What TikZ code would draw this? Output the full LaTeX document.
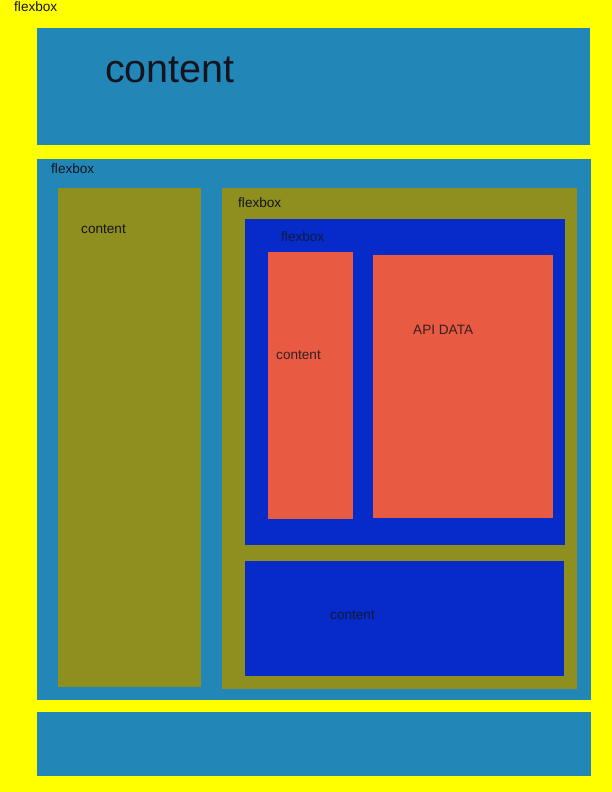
\documentclass[tikz,border=0pt]{standalone}
\usepackage{fontspec}
\setmainfont{Liberation Sans}
\definecolor{cyel}{HTML}{FFFF00}
\definecolor{cblue}{HTML}{2287B7}
\definecolor{colive}{HTML}{8F8F1F}
\definecolor{croyal}{HTML}{062BC8}
\definecolor{cred}{HTML}{E85A42}
\definecolor{ctext}{HTML}{141420}
\tikzset{
  lbl/.style={anchor=base west, inner sep=0pt, font=\fontsize{13.6}{16}\selectfont, text=ctext},
  big/.style={anchor=base west, inner sep=0pt, font=\fontsize{39.5}{44}\selectfont, text=ctext}
}
\begin{document}
\begin{tikzpicture}[x=1pt,y=-1pt]
\fill[cyel] (0,0) rectangle (612,792);
\useasboundingbox (0,0) rectangle (612,792);
% top bar
\fill[cblue] (37,28) rectangle (590,145);
% middle flexbox
\fill[cblue] (37,159) rectangle (591,700);
\fill[colive] (58,188) rectangle (201,687);
\fill[colive] (222,188) rectangle (577,689);
\fill[croyal] (245,219) rectangle (565,545);
\fill[cred] (268,252) rectangle (353,519);
\fill[cred] (373,255) rectangle (553,518);
\fill[croyal] (245,561) rectangle (564,676);
% bottom bar
\fill[cblue] (37,712) rectangle (591,776);
% texts
\node[lbl] (t1) at (14,12) {flexbox};
\node[big] (t2) at (105,82) {content};
\node[lbl] (t3) at (51,173) {flexbox};
\node[lbl] (t4) at (81,233) {content};
\node[lbl] (t5) at (238,207) {flexbox};
\node[lbl, text=ctext!80!croyal] (t6) at (281,241) {flexbox};
\node[lbl, text=ctext!85!cred] (t7) at (276,359) {content};
\node[lbl, text=ctext!85!cred] (t8) at (413,334) {API DATA};
\node[lbl, text=ctext!85!croyal] (t9) at (330,619) {content};
\end{tikzpicture}
\end{document}
